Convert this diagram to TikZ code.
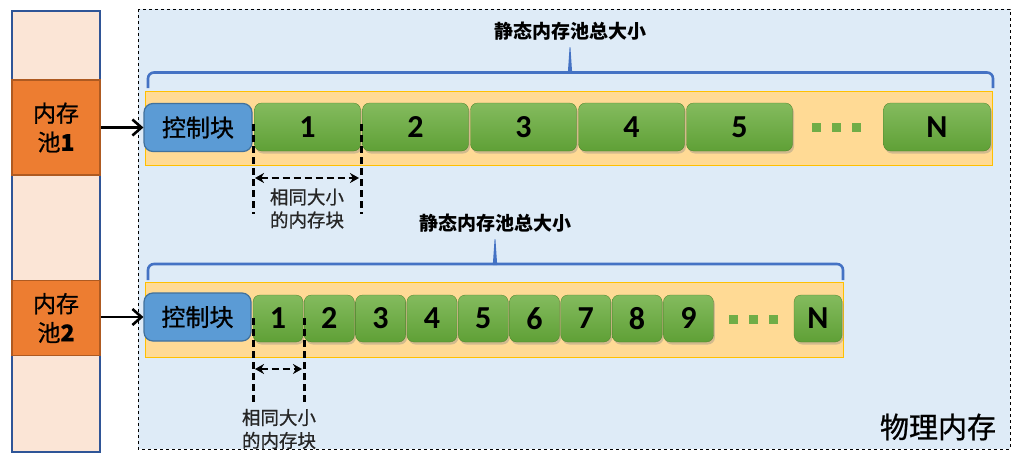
\documentclass[tikz,border=0pt]{standalone}
\usepackage{fontspec}
\setmainfont{Carlito}
\newfontfamily\cjk[FakeBold=0.8]{Noto Sans CJK SC}
\newfontfamily\cjkb{Noto Sans CJK SC}
\usetikzlibrary{shadows,arrows.meta}
\definecolor{peach}{HTML}{FBE5D6}
\definecolor{navy}{HTML}{2F5597}
\definecolor{orangef}{HTML}{ED7D31}
\definecolor{oranged}{HTML}{AE5A21}
\definecolor{physbg}{HTML}{DEEBF7}
\definecolor{bandf}{HTML}{FFDA95}
\definecolor{bandd}{HTML}{FFC000}
\definecolor{ctrlf}{HTML}{5B9BD5}
\definecolor{ctrld}{HTML}{41719C}
\definecolor{gtop}{HTML}{84BB5E}
\definecolor{gbot}{HTML}{5FA036}
\definecolor{braceblue}{HTML}{4472C4}
\definecolor{dotgreen}{HTML}{70AD47}
\tikzset{
  column/.style={draw=navy, line width=1.8pt, fill=peach},
  poolbox/.style={draw=oranged, line width=1.5pt, fill=orangef, inner sep=0pt,
     align=center, font=\cjk\fontsize{23}{29}\selectfont},
  physbox/.style={draw=black, dashed, line width=0.8pt, fill=physbg},
  band/.style={draw=bandd, line width=0.8pt, fill=bandf},
  ctrl/.style={draw=ctrld, line width=1.2pt, fill=ctrlf, rounded corners=9pt,
     inner sep=0pt, font=\cjk\fontsize{24}{26}\selectfont},
  blk/.style={rounded corners=7pt, inner sep=0pt, top color=gtop, bottom color=gbot,
     draw=gbot!80!black, line width=0.3pt,
     drop shadow={opacity=0.35, shadow xshift=1.5pt, shadow yshift=-2.5pt},
     font=\bfseries\fontsize{32}{34}\selectfont},
  bracepath/.style={draw=braceblue, line width=2.6pt, rounded corners=6pt},
  toplabel/.style={font=\cjkb\bfseries\fontsize{19}{21}\selectfont},
  dimline/.style={draw=black, line width=3pt, dash pattern=on 7pt off 4pt},
  dimarrow/.style={draw=black, line width=2.6pt, dash pattern=on 7pt off 4pt,
     {Stealth[length=9pt,width=10pt]}-{Stealth[length=9pt,width=10pt]}},
  dimtext/.style={align=center, text=black!85, font=\cjk\fontsize{18.5}{23}\selectfont},
  link/.style={draw=black, line width=2.6pt, -{Straight Barb[length=9pt,width=16pt,line width=2.6pt]}},
  gdot/.style={fill=dotgreen, draw=none, minimum size=9pt, inner sep=0pt},
}
\begin{document}
\begin{tikzpicture}[x=1pt,y=-1pt]
\useasboundingbox (0,0) rectangle (1020,461);
% left column
\draw[column] (12,11) rectangle (100,452);
\node[poolbox, minimum width=88pt, minimum height=95pt] (p1) at (56,127.5) {内存\\池\textbf{1}};
\node[poolbox, minimum width=88pt, minimum height=75pt] (p2) at (56,318) {内存\\池\textbf{2}};
% physical memory
\draw[physbox] (138,9) rectangle (1010,449);
\node[font=\cjk\fontsize{29}{31}\selectfont] (phys) at (938,427) {物理内存};

% ---------- pool 1 ----------
\node[toplabel] (lab1) at (570,31) {静态内存池总大小};
\draw[bracepath] (148,88) -- (148,72.5) -- (567,72.5) -- (993,72.5) -- (993,88);
\fill[braceblue] (567.8,73.5) -- (569.6,47) -- (570.4,47) -- (572.2,73.5) -- cycle;
\draw[band] (145,91) rectangle (992,165);
\node[ctrl, minimum width=108pt, minimum height=48pt] (c1) at (198,127.5) {控制块};
\foreach \i/\cx in {1/307.5, 2/415.5, 3/523.5, 4/631.5, 5/739.5}{
  \node[blk, minimum width=106pt, minimum height=48pt] (a\i) at (\cx,127) {\i};
}
\node[blk, minimum width=107pt, minimum height=48pt] (aN) at (937,127) {N};
\foreach \k/\dx in {1/816, 2/836, 3/856}{
  \node[gdot] (ad\k) at (\dx,127.5) {};
}
\draw[link] (p1.east |- c1.west) -- (c1.west);
% dimension pool 1
\coordinate (u1a) at (253,124);
\coordinate (u1b) at (253,214);
\coordinate (u2a) at (361,124);
\coordinate (u2b) at (361,214);
\draw[dimline] (u1a) -- (u1b);
\draw[dimline] (u2a) -- (u2b);
\coordinate (h1a) at (255,178);
\coordinate (h1b) at (359,178);
\draw[dimarrow] (h1a) -- (h1b);
\node[dimtext] (t1) at (307,208.5) {相同大小\\的内存块};

% ---------- pool 2 ----------
\node[toplabel] (lab2) at (495,223) {静态内存池总大小};
\draw[bracepath] (148,280) -- (148,264) -- (843,264) -- (843,280);
\fill[braceblue] (492.8,265) -- (494.6,239) -- (495.4,239) -- (497.2,265) -- cycle;
\draw[band] (145,282) rectangle (843,357);
\node[ctrl, minimum width=107pt, minimum height=48pt] (c2) at (197.5,317) {控制块};
\foreach \i in {1,...,9}{
  \pgfmathsetmacro{\cx}{278+(\i-1)*51.3}
  \node[blk, minimum width=50pt, minimum height=47pt] (b\i) at (\cx,318.5) {\i};
}
\node[blk, minimum width=48pt, minimum height=47pt] (bN) at (818,318.5) {N};
\foreach \k/\dx in {1/733, 2/753, 3/773}{
  \node[gdot] (bd\k) at (\dx,319) {};
}
\draw[link] (p2.east |- c2.west) -- (c2.west);
% dimension pool 2
\coordinate (v1a) at (253,318);
\coordinate (v1b) at (253,405);
\coordinate (v2a) at (304,318);
\coordinate (v2b) at (304,405);
\draw[dimline] (v1a) -- (v1b);
\draw[dimline] (v2a) -- (v2b);
\coordinate (h2a) at (255,369);
\coordinate (h2b) at (302,369);
\draw[dimarrow] (h2a) -- (h2b);
\node[dimtext] (t2) at (279,429) {相同大小\\的内存块};
\end{tikzpicture}
\end{document}
